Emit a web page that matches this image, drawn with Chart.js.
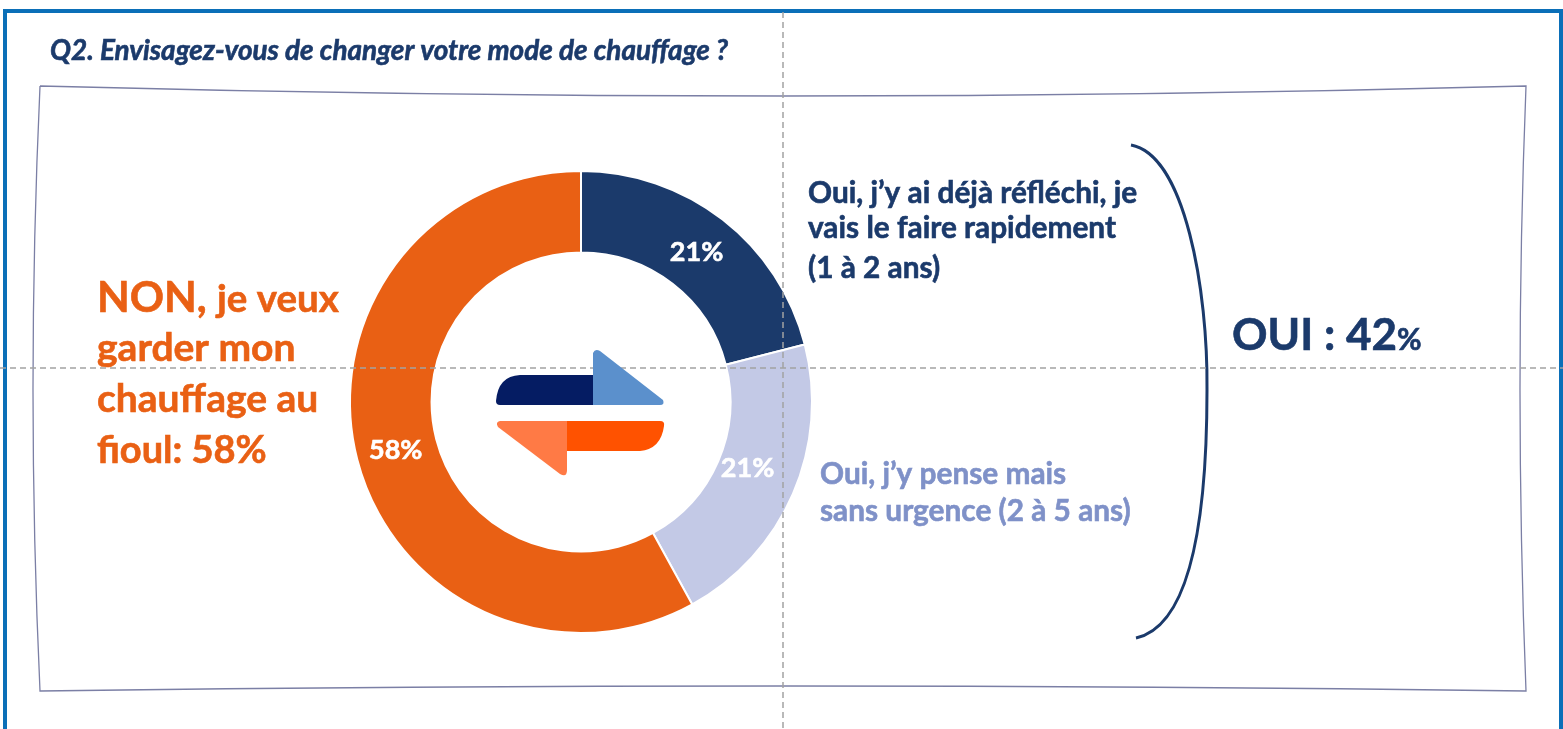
<!DOCTYPE html>
<html lang="fr">
<head>
    <meta charset="UTF-8">
    <title>Q2. Envisagez-vous de changer votre mode de chauffage ?</title>
    <script src="https://cdn.jsdelivr.net/npm/chart.js"></script>
    <style>
        html, body { margin: 0; padding: 0; background: #fff; overflow: hidden; }
        #wrap { width: 1563px; height: 729px; }
    </style>
</head>
<body>
<div id="wrap"><canvas id="chart" width="1563" height="729"></canvas></div>
<script>
    // Chart data
    const categories = ['Oui, rapidement (1 à 2 ans)', 'Oui, sans urgence (2 à 5 ans)', 'Non'];
    const values = [21, 21, 58];
    const sliceColors = ['#1b3a6b', '#c3c9e6', '#e96014'];
    const sliceLabels = ['21%', '21%', '58%'];
    const labelShift = [[-1, 1], [-8, -9], [-1, 1]];

    const NAVY = '#1b3a6b';
    const ORANGE = '#e96014';
    const LILAC = '#7f91c8';
    const FONT = 'Lato, Carlito, sans-serif';

    // thin stroke on top of the fill, the original bold is a bit heavier than Lato
    function text(c, str, x, y, font, color) {
        c.font = font + ' ' + FONT;
        c.fillStyle = color;
        c.strokeStyle = color;
        c.lineWidth = 0.6;
        c.fillText(str, x, y);
        c.strokeText(str, x, y);
        return c.measureText(str).width;
    }

    // Page frame, title, logo and side labels
    const decor = {
        id: 'decor',
        beforeDatasetsDraw(chart) {
            const c = chart.ctx;
            c.save();
            // blue outer frame
            c.strokeStyle = '#0b6fb8';
            c.lineWidth = 4;
            c.beginPath();
            c.moveTo(5, 729);
            c.lineTo(5, 11);
            c.lineTo(1561, 11);
            c.lineTo(1561, 729);
            c.stroke();
            // curved inner frame
            c.strokeStyle = '#7b7fa5';
            c.lineWidth = 1.3;
            c.beginPath();
            c.moveTo(40, 86);
            c.quadraticCurveTo(783, 106, 1526, 86);
            c.quadraticCurveTo(1514, 389, 1526, 691);
            c.quadraticCurveTo(783, 681, 40, 691);
            c.quadraticCurveTo(26, 389, 40, 86);
            c.stroke();
            // bracket
            c.strokeStyle = NAVY;
            c.lineWidth = 3;
            c.beginPath();
            c.moveTo(1131, 145);
            c.bezierCurveTo(1185, 155, 1208, 290, 1207, 390);
            c.bezierCurveTo(1207, 500, 1195, 625, 1136, 638);
            c.stroke();
            c.restore();
        },
        afterDatasetsDraw(chart) {
            const c = chart.ctx;
            const arcs = chart.getDatasetMeta(0).data;
            c.save();
            // dashed guides
            c.strokeStyle = '#a3a3a3';
            c.lineWidth = 1.5;
            c.setLineDash([6, 4]);
            c.beginPath();
            c.moveTo(0, 368);
            c.lineTo(1563, 368);
            c.moveTo(783, 12);
            c.lineTo(783, 729);
            c.stroke();
            c.setLineDash([]);

            // slice labels
            c.textAlign = 'center';
            c.textBaseline = 'middle';
            arcs.forEach((arc, i) => {
                const p = arc.getCenterPoint();
                text(c, sliceLabels[i], p.x + labelShift[i][0], p.y + labelShift[i][1], 'bold 27px', '#fff');
            });
            c.textAlign = 'left';
            c.textBaseline = 'alphabetic';

            // logo
            c.fillStyle = '#051c63';
            c.beginPath();
            c.moveTo(593, 375);
            c.lineTo(520, 375);
            c.quadraticCurveTo(498, 376, 496, 401);
            c.quadraticCurveTo(496, 405, 500, 405);
            c.lineTo(593, 405);
            c.fill();
            c.fillStyle = '#5b90cc';
            c.beginPath();
            c.moveTo(593, 353);
            c.quadraticCurveTo(595, 348, 600, 351);
            c.lineTo(663, 400);
            c.quadraticCurveTo(665, 405, 660, 405);
            c.lineTo(593, 405);
            c.fill();
            c.fillStyle = '#ff5200';
            c.beginPath();
            c.moveTo(567, 421);
            c.lineTo(660, 421);
            c.quadraticCurveTo(665, 421, 664, 426);
            c.quadraticCurveTo(661, 449, 640, 451);
            c.lineTo(567, 451);
            c.fill();
            c.fillStyle = '#ff7a45';
            c.beginPath();
            c.moveTo(567, 421);
            c.lineTo(500, 421);
            c.quadraticCurveTo(495, 422, 498, 427);
            c.lineTo(560, 474);
            c.quadraticCurveTo(567, 478, 567, 470);
            c.fill();

            // title
            text(c, 'Q2. Envisagez-vous de changer votre mode de chauffage ?', 50, 60, 'italic bold 27.9px', NAVY);

            // left text
            text(c, 'NON,', 97, 312, 'bold 42.5px', ORANGE);
            text(c, 'je veux', 217, 312, 'bold 38.5px', ORANGE);
            text(c, 'garder mon', 97, 361, 'bold 39px', ORANGE);
            text(c, 'chauffage au', 97, 412, 'bold 39px', ORANGE);
            text(c, 'fioul: 58%', 97, 463, 'bold 38px', ORANGE);

            // right labels
            text(c, 'Oui, j\u2019y ai déjà réfléchi, je', 808, 203, 'bold 29.8px', NAVY);
            text(c, 'vais le faire rapidement', 808, 238, 'bold 29.8px', NAVY);
            text(c, '(1 à 2 ans)', 808, 278, 'bold 29.8px', NAVY);
            text(c, 'Oui, j\u2019y pense mais', 820, 484, 'bold 29.8px', LILAC);
            text(c, 'sans urgence (2 à 5 ans)', 820, 521, 'bold 29.8px', LILAC);

            // total
            const o = text(c, 'OUI : 42', 1232, 350, 'bold 44px', NAVY);
            text(c, '%', 1232 + o, 350, 'bold 30px', NAVY);
            c.restore();
        }
    };

    new Chart(document.getElementById('chart'), {
        type: 'doughnut',
        data: {
            labels: categories,
            datasets: [{
                data: values,
                backgroundColor: sliceColors,
                borderColor: '#ffffff',
                borderWidth: 2
            }]
        },
        options: {
            responsive: false,
            animation: false,
            cutout: '64.7%',
            layout: { padding: { left: 349, right: 750, top: 170, bottom: 95 } },
            plugins: { legend: { display: false }, tooltip: { enabled: false } }
        },
        plugins: [decor]
    });
</script>
</body>
</html>
